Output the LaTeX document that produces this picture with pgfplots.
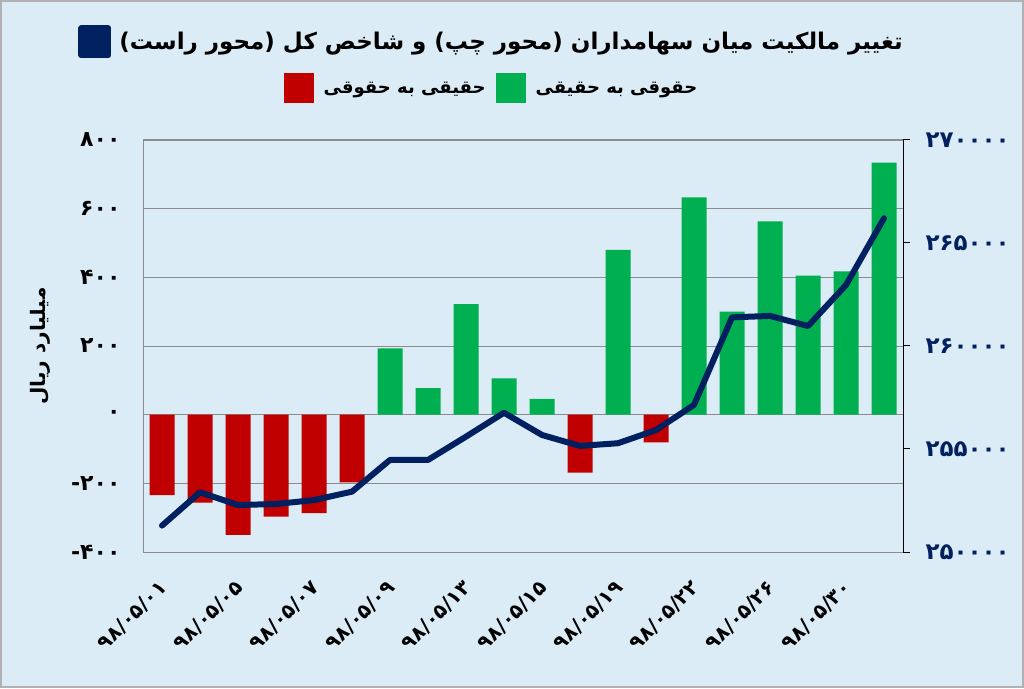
\documentclass[border=0pt]{standalone}
\usepackage{fontspec}
\usepackage{pgfplots}
\pgfplotsset{compat=1.18}
\TeXXeTstate=1
\newfontfamily\fa[Script=Arabic]{DejaVu Sans}
\definecolor{bgblue}{RGB}{219,236,246}
\definecolor{mygreen}{RGB}{0,176,80}
\definecolor{myred}{RGB}{192,0,0}
\definecolor{navy}{RGB}{0,32,96}
\definecolor{gridgray}{RGB}{140,140,140}
\begin{document}
\begin{tikzpicture}[x=1pt,y=1pt]
\fill[bgblue] (0,0) rectangle (1024,688);
\draw[gray!60, line width=2pt] (1,1) rectangle (1023,687);
\begin{axis}[
  at={(143pt,136pt)}, anchor=south west,
  scale only axis, width=760pt, height=412pt,
  xmin=0.5, xmax=20.5, ymin=-400, ymax=800,
  ytick={-400,-200,...,800},
  yticklabels={\hbox{-}۴۰۰,\hbox{-}۲۰۰,۰,۲۰۰,۴۰۰,۶۰۰,۸۰۰},
  xtick={1,3,...,19},
  xticklabels={۹۸/۰۵/۰۱,۹۸/۰۵/۰۵,۹۸/۰۵/۰۷,۹۸/۰۵/۰۹,۹۸/۰۵/۱۳,۹۸/۰۵/۱۵,۹۸/۰۵/۱۹,۹۸/۰۵/۲۲,۹۸/۰۵/۲۶,۹۸/۰۵/۳۰},
  major tick length=0pt,
  axis line style={gridgray, line width=1pt},
  ymajorgrids, grid style={gridgray, line width=0.9pt},
  yticklabel style={font=\fa\bfseries\fontsize{22}{26}\selectfont, text=black, anchor=east, xshift=-19pt},
  xticklabel style={font=\fa\bfseries\fontsize{20}{24}\selectfont, anchor=east, xshift=4pt, yshift=-30pt, rotate=45},
  ylabel={\fa\bfseries\fontsize{20}{24}\selectfont\beginR میلیارد ریال\endR},
  every axis y label/.style={at={(axis description cs:-0.1355,0.5)}, rotate=90, anchor=center},
  legend style={at={(axis description cs:0.4586,1.126)}, anchor=center, draw=none, fill=none,
    font=\fa\bfseries\fontsize{18}{22}\selectfont, legend columns=2,
    /tikz/every odd column/.append style={column sep=8pt},
    /tikz/every even column/.append style={column sep=8pt}},
  legend image code/.code={\fill[#1] (0pt,-15pt) rectangle (30pt,15pt);},
]
\addplot[ybar, bar width=25pt, bar shift=0pt, fill=myred, draw=none] coordinates {(1,-234) (2,-256) (3,-350) (4,-297) (5,-287) (6,-197) (12,-169) (14,-81)};
\addlegendentry{\beginR حقیقی به حقوقی\endR}
\addplot[ybar, bar width=25pt, bar shift=0pt, fill=mygreen, draw=none] coordinates {(7,193) (8,77) (9,322) (10,106) (11,46) (13,480) (15,633) (16,300) (17,563) (18,405) (19,417) (20,734)};
\addlegendentry{\beginR حقوقی به حقیقی\endR}
\end{axis}
\begin{axis}[
  at={(143pt,136pt)}, anchor=south west,
  scale only axis, width=760pt, height=412pt,
  xmin=0.5, xmax=20.5, ymin=250000, ymax=270000,
  axis y line*=right, axis x line=none,
  ytick={250000,255000,...,270000},
  yticklabels={۲۵۰۰۰۰,۲۵۵۰۰۰,۲۶۰۰۰۰,۲۶۵۰۰۰,۲۷۰۰۰۰},
  scaled y ticks=false,
  tick align=outside, major tick length=7pt,
  y axis line style={black, line width=1pt},
  ytick style={black, line width=1pt},
  yticklabel style={font=\fa\bfseries\fontsize{23}{27}\selectfont, text=navy, anchor=west, xshift=12pt},
  legend style={at={(axis description cs:0.4586,1.238)}, anchor=center, draw=none, fill=none,
    font=\fa\bfseries\fontsize{23}{28}\selectfont,
    /tikz/every odd column/.append style={column sep=6pt}},
  legend image code/.code={\fill[navy] (0pt,-13.5pt) rectangle (27pt,13.5pt);},
]
\addplot[navy, line width=6pt, line cap=round, line join=round, mark=none] coordinates {(1,251280) (2,252900) (3,252280) (4,252330) (5,252520) (6,252930) (7,254470) (8,254470) (9,255600) (10,256760) (11,255680) (12,255150) (13,255280) (14,255920) (15,257140) (16,261390) (17,261460) (18,260970) (19,262960) (20,266200)};
\addlegendentry{\beginR تغییر مالکیت میان سهامداران (محور چپ) و شاخص کل (محور راست)\endR}
\end{axis}
\end{tikzpicture}
\end{document}
